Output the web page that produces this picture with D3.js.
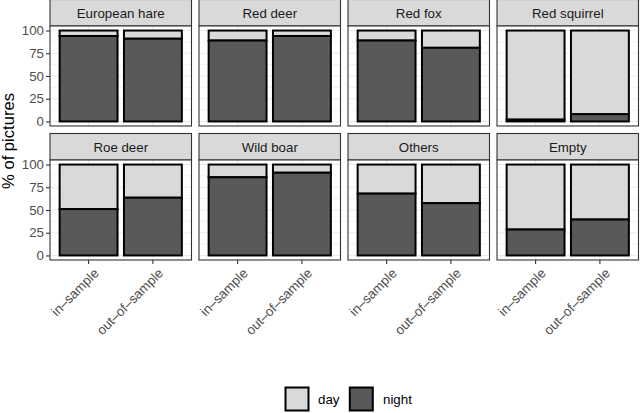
<!DOCTYPE html>
<html>
<head>
<meta charset="utf-8">
<script src="https://cdn.jsdelivr.net/npm/d3@7"></script>
<style>
  body { margin: 0; background: #fff; }
  svg { display: block; font-family: "Liberation Sans", Arial, Helvetica, sans-serif; }
</style>
</head>
<body>
<svg id="chart" width="640" height="413"></svg>
<script>
// ---- data ----
const species = ["European hare", "Red deer", "Red fox", "Red squirrel",
                 "Roe deer", "Wild boar", "Others", "Empty"];
const samples = ["in–sample", "out–of–sample"];
const nightIn  = [94, 89, 89, 2, 51, 86, 68, 28.5];
const nightOut = [91, 94, 81, 8, 63.5, 91, 57.5, 39.5];
const dayIn    = [6, 11, 11, 98, 49, 14, 32, 71.5];
const dayOut   = [9, 6, 19, 92, 36.5, 9, 42.5, 60.5];
const yTicks = [0, 25, 50, 75, 100];
const yMinor = [12.5, 37.5, 62.5, 87.5];
const legendLabels = ["day", "night"];

// ---- style ----
const fills = { day: "#d9d9d9", night: "#595959" };
const svg = d3.select("#chart");
const panelX0 = 50, panelW = 141.5, gapX = 7.5;
const rowTop = [-0.5, 133.5], stripH = 26.5, panelH = 100;
const nCols = 4;

const x = d3.scaleBand().domain(samples).range([0, panelW])
  .paddingInner(0.1).paddingOuter(0.15);
const y = d3.scaleLinear().domain([-5, 105]).range([panelH, 0]);

species.forEach((sp, i) => {
  const col = i % nCols, row = Math.floor(i / nCols);
  const px = panelX0 + col * (panelW + gapX);
  const sy = rowTop[row];
  const py = sy + stripH;

  // strip
  const gs = svg.append("g").attr("transform", `translate(${px},${sy})`);
  gs.append("rect").attr("width", panelW).attr("height", stripH)
    .attr("fill", "#d9d9d9").attr("stroke", "#333").attr("stroke-width", 1.1);
  gs.append("text").attr("x", panelW / 2).attr("y", stripH / 2 + 0.5)
    .attr("text-anchor", "middle").attr("dominant-baseline", "central")
    .attr("font-size", 13.3).attr("fill", "#1a1a1a").text(sp);

  const g = svg.append("g").attr("transform", `translate(${px},${py})`);
  g.append("rect").attr("width", panelW).attr("height", panelH).attr("fill", "#fff");
  // grid
  g.selectAll(".minor").data(yMinor).join("line")
    .attr("x1", 0).attr("x2", panelW).attr("y1", d => y(d)).attr("y2", d => y(d))
    .attr("stroke", "#ebebeb").attr("stroke-width", 0.6);
  g.selectAll(".major").data(yTicks).join("line")
    .attr("x1", 0).attr("x2", panelW).attr("y1", d => y(d)).attr("y2", d => y(d))
    .attr("stroke", "#ebebeb").attr("stroke-width", 1.1);
  g.selectAll(".vmajor").data(samples).join("line")
    .attr("x1", d => x(d) + x.bandwidth() / 2).attr("x2", d => x(d) + x.bandwidth() / 2)
    .attr("y1", 0).attr("y2", panelH)
    .attr("stroke", "#ebebeb").attr("stroke-width", 1.1);

  // bars: night at bottom, day stacked on top
  const vals = [
    { s: samples[0], night: nightIn[i], day: dayIn[i] },
    { s: samples[1], night: nightOut[i], day: dayOut[i] }
  ];
  vals.forEach(v => {
    g.append("rect").attr("x", x(v.s)).attr("width", x.bandwidth())
      .attr("y", y(v.night + v.day)).attr("height", y(v.night) - y(v.night + v.day))
      .attr("fill", fills.day).attr("stroke", "#000").attr("stroke-width", 2);
    g.append("rect").attr("x", x(v.s)).attr("width", x.bandwidth())
      .attr("y", y(v.night)).attr("height", y(0) - y(v.night))
      .attr("fill", fills.night).attr("stroke", "#000").attr("stroke-width", 2);
  });

  // border
  g.append("rect").attr("width", panelW).attr("height", panelH)
    .attr("fill", "none").attr("stroke", "#333").attr("stroke-width", 1.1);

  // y axis on the first column
  if (col === 0) {
    const ay = g.append("g").call(d3.axisLeft(y).tickValues(yTicks).tickSize(4).tickPadding(2));
    ay.select(".domain").remove();
    ay.selectAll("line").attr("stroke", "#333").attr("stroke-width", 1.1);
    ay.selectAll("text").attr("font-size", 13.3).attr("fill", "#4d4d4d")
      .attr("font-family", "Liberation Sans, Arial, sans-serif");
  }
  // x axis on the bottom row
  if (row === 1) {
    const ax = g.append("g").attr("transform", `translate(0,${panelH})`)
      .call(d3.axisBottom(x).tickSize(4).tickPadding(2));
    ax.select(".domain").remove();
    ax.selectAll("line").attr("stroke", "#333").attr("stroke-width", 1.1);
    ax.selectAll("text")
      .attr("font-size", 13.3).attr("fill", "#4d4d4d")
      .attr("font-family", "Liberation Sans, Arial, sans-serif")
      .attr("text-anchor", "end")
      .attr("dy", "0.75em").attr("y", 0)
      .attr("transform", "translate(4,7) rotate(-45)");
  }
});

// y axis title
svg.append("text").attr("transform", "translate(14,141) rotate(-90)")
  .attr("text-anchor", "middle").attr("font-size", 16.6).attr("fill", "#000")
  .text("% of pictures");

// legend
const leg = svg.append("g");
const keyX = [284, 348.3];
const textX = [318, 383];
legendLabels.forEach((lab, k) => {
  leg.append("rect").attr("x", keyX[k] + 1.5).attr("y", 387.5).attr("width", 23).attr("height", 23)
    .attr("fill", fills[lab]).attr("stroke", "#000").attr("stroke-width", 2);
  leg.append("text").attr("x", textX[k]).attr("y", 399).attr("dominant-baseline", "central")
    .attr("font-size", 13.3).attr("fill", "#000").text(lab);
});
</script>
</body>
</html>
